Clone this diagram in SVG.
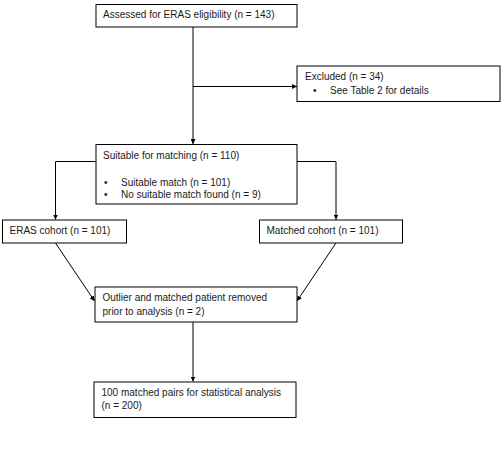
<svg xmlns="http://www.w3.org/2000/svg" width="504" height="451" viewBox="0 0 504 451">
<defs>
<marker id="ah" viewBox="0 0 10 10" refX="10" refY="5" markerWidth="5" markerHeight="5" orient="auto" markerUnits="userSpaceOnUse">
<path d="M0,0 L10,5 L0,10 z" fill="#000"/>
</marker>
<style>
.box{fill:#fff;stroke:#000;stroke-width:1}
.t{font-family:"Liberation Sans",Arial,sans-serif;font-size:10px;fill:#1a1a1a}
.c{fill:none;stroke:#000;stroke-width:1}
</style>
</defs>
<rect width="504" height="451" fill="#fff"/>
<g id="connectors">
<line class="c" x1="193" y1="27" x2="193" y2="144" marker-end="url(#ah)"/>
<line class="c" x1="193" y1="86.5" x2="297" y2="86.5" marker-end="url(#ah)"/>
<polyline class="c" points="96,161.5 55.5,161.5 55.5,219.5" marker-end="url(#ah)"/>
<polyline class="c" points="297,161.5 336,161.5 336,219.5" marker-end="url(#ah)"/>
<line class="c" x1="55.5" y1="243" x2="94.5" y2="301" marker-end="url(#ah)"/>
<line class="c" x1="336" y1="243" x2="297" y2="301" marker-end="url(#ah)"/>
<line class="c" x1="193" y1="322" x2="193" y2="381.5" marker-end="url(#ah)"/>
</g>
<g id="n1">
<rect class="box" x="96" y="4.5" width="201" height="22.5"/>
<text class="t" x="103" y="18">Assessed for ERAS eligibility (n = 143)</text>
</g>
<g id="n2">
<rect class="box" x="297" y="66" width="203" height="35.5"/>
<text class="t" x="305" y="80">Excluded (n = 34)</text>
<text class="t" x="313" y="94">•</text>
<text class="t" x="330" y="94">See Table 2 for details</text>
</g>
<g id="n3">
<rect class="box" x="96" y="144.5" width="201" height="59.5"/>
<text class="t" x="103" y="159">Suitable for matching (n = 110)</text>
<text class="t" x="104" y="186">•</text>
<text class="t" x="121" y="186">Suitable match (n = 101)</text>
<text class="t" x="104" y="197.5">•</text>
<text class="t" x="121" y="197.5">No suitable match found (n = 9)</text>
</g>
<g id="n4">
<rect class="box" x="2.5" y="220" width="124" height="23"/>
<text class="t" x="9.5" y="234">ERAS cohort (n = 101)</text>
</g>
<g id="n5">
<rect class="box" x="259.5" y="220" width="143" height="23"/>
<text class="t" x="266.5" y="234">Matched cohort (n = 101)</text>
</g>
<g id="n6">
<rect class="box" x="95" y="287" width="202" height="35"/>
<text class="t" x="102.5" y="301">Outlier and matched patient removed</text>
<text class="t" x="102.5" y="314.5">prior to analysis (n = 2)</text>
</g>
<g id="n7">
<rect class="box" x="94" y="382" width="202" height="35.5"/>
<text class="t" x="101.5" y="395.5">100 matched pairs for statistical analysis</text>
<text class="t" x="101.5" y="409">(n = 200)</text>
</g>
</svg>
